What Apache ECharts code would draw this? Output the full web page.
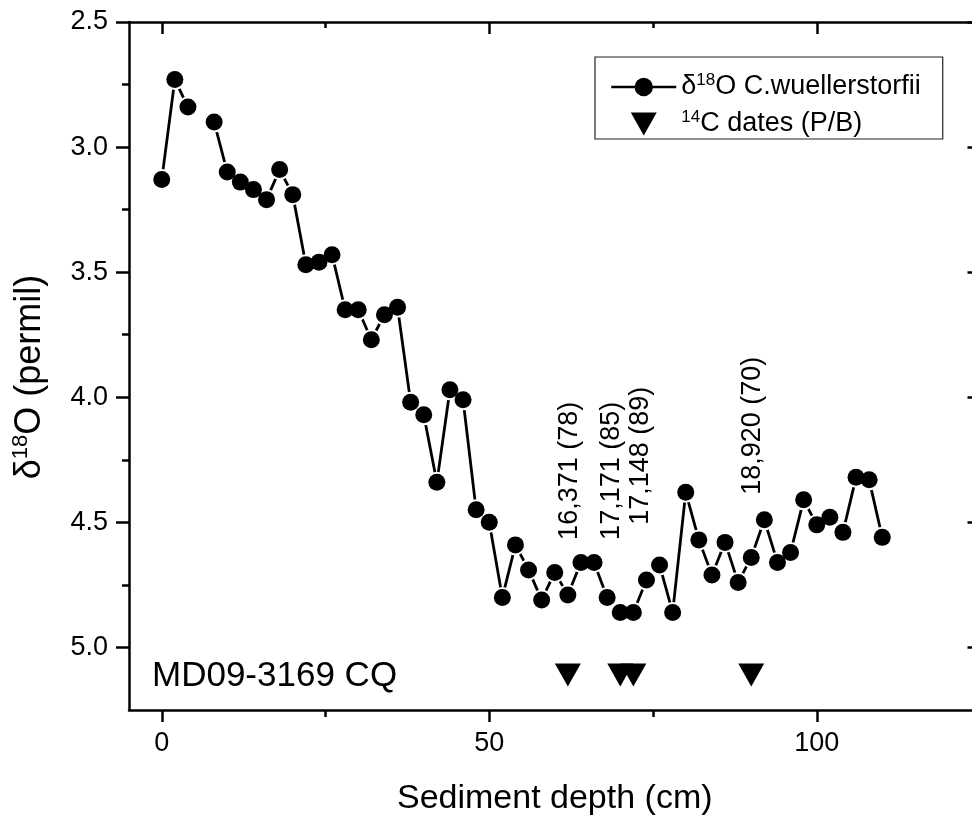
<!DOCTYPE html>
<html><head><meta charset="utf-8">
<script src="https://cdn.jsdelivr.net/npm/echarts@6/dist/echarts.min.js"></script>
<style>html,body{margin:0;padding:0;overflow:hidden;background:#fff;width:972px;height:821px}
#c{width:992px;height:821px}</style></head>
<body><div id="c"></div>
<script>
// ---- data ----
const depth = [0,2,4,6,8,10,12,14,16,18,20,22,24,26,28,30,32,34,36,38,40,42,44,46,48,50,52,54,56,58,60,62,64,66,68,70,72,74,76,78,80,82,84,86,88,90,92,94,96,98,100,102,104,106,108,110];
const d18O = [3.13,2.73,2.84,null,2.90,3.10,3.14,3.17,3.21,3.09,3.19,3.47,3.46,3.43,3.65,3.65,3.77,3.67,3.64,4.02,4.07,4.34,3.97,4.01,4.45,4.50,4.80,4.59,4.69,4.81,4.70,4.79,4.66,4.66,4.80,4.86,4.86,4.73,4.67,4.86,4.38,4.57,4.71,4.58,4.74,4.64,4.49,4.66,4.62,4.41,4.51,4.48,4.54,4.32,4.33,4.56];
const dateDepth = [62,70,72,90];
const dateMarkerLevel = [5.11,5.11,5.11,5.11];
const dateLabels = ['16,371 (78)','17,171 (85)','17,148 (89)','18,920 (70)'];
const dateLabelDepth = [62.2,68.7,73.1,90.2];
const dateLabelLevel = [4.57,4.57,4.51,4.39];
const xMajorTicks = [0,50,100];
const xMinorTicks = [25,75];
const yMajorTicks = [2.5,3.0,3.5,4.0,4.5,5.0];
const yMinorTicks = [2.75,3.25,3.75,4.25,4.75];
const coreName = 'MD09-3169 CQ';

const FF = '"Liberation Sans", Arial, sans-serif';
const K = '#000';
const lineData = depth.map((d,i)=>[d, d18O[i]===null ? '-' : d18O[i]]);
const pointData = depth.map((d,i)=>[d, d18O[i]]).filter(p=>p[1]!==null);

function xAx(pos, ticks, len, inside, showLine, showLabel){
  return {type:'value', position:pos, min:-5, max:125, gridIndex:0,
    axisLine:{show:showLine, onZero:false, lineStyle:{color:K,width:2.5}},
    axisTick:{show:true, inside:inside, length:len, customValues:ticks, lineStyle:{color:K,width:2.5}},
    axisLabel:{show:showLabel, customValues:ticks, fontSize:27, color:K, fontFamily:FF, margin:20},
    splitLine:{show:false}, minorTick:{show:false}};
}
function yAx(pos, ticks, len, inside, showLine, showLabel){
  return {type:'value', position:pos, min:2.5, max:5.25, inverse:true, gridIndex:0,
    axisLine:{show:showLine, onZero:false, lineStyle:{color:K,width:2.5}},
    axisTick:{show:true, inside:inside, length:len, customValues:ticks, lineStyle:{color:K,width:2.5}},
    axisLabel:{show:showLabel, customValues:ticks, fontSize:27, color:K, fontFamily:FF, margin:21,
      formatter:v=>Number(v).toFixed(1)},
    splitLine:{show:false}, minorTick:{show:false}};
}
const xMain = xAx('bottom', xMajorTicks, 12, false, true, true);
Object.assign(xMain, {name:'Sediment depth (cm)', nameLocation:'middle', nameGap:72,
  nameTextStyle:{fontSize:34, color:K, fontFamily:FF}});
const yMain = yAx('left', yMajorTicks, 13, false, true, true);
Object.assign(yMain, {name:'{n|δ}{s|18}{n|O (permil)}', nameLocation:'middle', nameGap:79,
  nameTextStyle:{fontSize:36, color:K, fontFamily:FF, padding:[0,22,0,0],
    rich:{n:{fontSize:36, color:K, fontFamily:FF, lineHeight:40},
          s:{fontSize:22, color:K, fontFamily:FF, verticalAlign:'top', lineHeight:40}}}});

const chart = echarts.init(document.getElementById('c'), null, {renderer:'canvas'});
chart.setOption({
  animation:false,
  backgroundColor:'#fff',
  textStyle:{fontFamily:FF},
  grid:{left:129, top:22, width:851.5, height:691, containLabel:false},
  xAxis:[xMain,
    xAx('bottom', xMinorTicks, 7, false, false, false),
    xAx('top', xMajorTicks, 12, true, true, false),
    xAx('top', xMinorTicks, 6, true, false, false)],
  yAxis:[yMain,
    yAx('left', yMinorTicks, 7, false, false, false),
    yAx('right', yMajorTicks, 13, true, true, false),
    yAx('right', yMinorTicks, 7, true, false, false)],
  legend:{
    data:[{name:'d18O'},
          {name:'c14', icon:'path://M0,0M65,23M19.5,0L45.5,0L32.5,23Z', itemStyle:{color:K, opacity:1}}],
    orient:'vertical', left:595, top:57,
    padding:[15,22,0,15], itemGap:7, itemWidth:65, itemHeight:23,
    borderColor:'#222', borderWidth:1.2,
    lineStyle:{color:K, width:2.5, opacity:1},
    formatter:n=> n==='d18O' ? '{n|δ}{s|18}{n|O C.wuellerstorfii}' : '{s|14}{n|C dates (P/B)}',
    textStyle:{fontSize:27, color:K, fontFamily:FF, lineHeight:30,
      rich:{n:{fontSize:27, color:K, fontFamily:FF, lineHeight:30},
            s:{fontSize:17, color:K, fontFamily:FF, verticalAlign:'top', lineHeight:30}}}
  },
  graphic:[{type:'text', left:152, top:659, silent:true,
    style:{text:coreName, fontSize:35, fill:K, fontFamily:FF}}],
  series:[
    {type:'line', name:'lineOnly', data:lineData, symbol:'none', connectNulls:false,
      lineStyle:{color:K, width:2.8}, z:2, silent:true},
    {type:'scatter', name:'halo', data:pointData, symbol:'circle', symbolSize:21,
      itemStyle:{color:'#fff', opacity:1}, z:3, silent:true},
    {type:'line', name:'d18O', data:lineData, symbol:'circle', symbolSize:17, showSymbol:true,
      showAllSymbol:true, connectNulls:false, itemStyle:{color:K, opacity:1},
      lineStyle:{color:K, width:2.5, opacity:0}, z:4},
    {type:'scatter', name:'c14', data:dateDepth.map((d,i)=>[d, dateMarkerLevel[i]]),
      symbol:'triangle', symbolRotate:180, symbolSize:[26,23], itemStyle:{color:K, opacity:1}, z:5},
    {type:'scatter', name:'dateText', data:dateLabelDepth.map((d,i)=>[d, dateLabelLevel[i]]),
      symbol:'circle', symbolSize:1, itemStyle:{color:'rgba(0,0,0,0)', opacity:1}, z:6, silent:true,
      label:{show:true, position:'inside', rotate:90, align:'left', verticalAlign:'middle', opacity:1,
        fontSize:27, color:K, fontFamily:FF, formatter:p=>dateLabels[p.dataIndex]}}
  ]
});
</script></body></html>
